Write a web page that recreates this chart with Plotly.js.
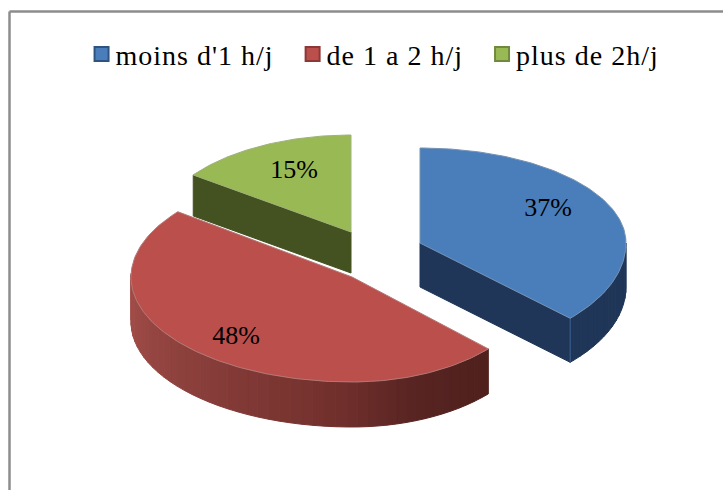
<!DOCTYPE html>
<html><head><meta charset="utf-8">
<script src="https://cdn.plot.ly/plotly-3.0.1.min.js"></script>
<style>html,body{margin:0;padding:0;background:#fff}#c{width:723px;height:490px}
.legendtext{letter-spacing:1px}
.legend .legendpoints{transform:translate(6px,0)}
</style>
</head><body><div id="c"></div>
<script>
// Data
const categories = ["moins d'1 h/j", "de 1 a 2 h/j", "plus de 2h/j"];
const percents = [37, 48, 15];

// Styles
const topColors = ["#4a7ebb", "#bb4f4c", "#98b954"];
const edgeColors = ["#2c5382", "#8c3836", "#6f8a3c"];
const sideColors = ["#1f3658", "#6e2e2b", "#445221"];
// Projection of every exploded slice: centre, half-widths, half-heights, thickness, end-angle skew
const proj = [
  {cx:420, cy:243, aR:206, aL:206, bB:95,  bF:110, d:44, skew:0},
  {cx:352, cy:277, aR:187, aL:221, bB:106, bF:105, d:45, skew:2},
  {cx:351, cy:232, aR:195, aL:195, bB:97,  bF:97,  d:41, skew:0}
];
const labelPos = [[548,209],[236,337],[294,171]];
const FONT = '"Liberation Serif", serif';

const rad = t => t*Math.PI/180;
function rim(p, t, dz){
  const s = Math.sin(rad(t)), c = Math.cos(rad(t));
  return [p.cx + (s>=0?p.aR:p.aL)*s, p.cy - (c>=0?p.bB:p.bF)*c + (dz||0)];
}
function poly(pts, fill, line, w){
  return {type:'scatter', mode:'lines', x:pts.map(q=>q[0]), y:pts.map(q=>q[1]),
    fill:'toself', fillcolor:fill, line:{color:line||fill, width:w===undefined?1:w},
    showlegend:false, hoverinfo:'skip'};
}
function mix(a,b,f){
  const h=s=>[1,3,5].map(i=>parseInt(s.substr(i,2),16));
  const A=h(a),B=h(b);
  return 'rgb('+A.map((v,i)=>Math.round(v+(B[i]-v)*f)).join(',')+')';
}
// red wall gradient stops: angle -> colour
const redStops=[[133,'#4f201c'],[160,'#572422'],[185,'#72302d'],[225,'#8a3f3b'],[262,'#a04b47'],[300,'#a04b47']];
function redShade(t){
  for(let i=0;i<redStops.length-1;i++){
    if(t<=redStops[i+1][0]) return mix(redStops[i][1],redStops[i+1][1],(t-redStops[i][0])/(redStops[i+1][0]-redStops[i][0]));
  }
  return redStops[redStops.length-1][1];
}

const total = percents.reduce((a,b)=>a+b,0);
const traces = [];
let acc = 0;
const spans = percents.map((v,i)=>{const s=[acc/total*360,(acc+v)/total*360+proj[i].skew];acc+=v;return s;});

percents.forEach((v,i)=>{
  const p=proj[i], [t0,t1]=spans[i];
  const apex=[p.cx,p.cy];
  // cut face visible from the viewer
  if(i===0){
    const e=rim(p,t1);
    traces.push(poly([apex,e,[e[0],e[1]+p.d],[apex[0],apex[1]+p.d],apex],sideColors[i]));
  }
  if(i===2){
    const e=rim(p,t0);
    traces.push(poly([apex,e,[e[0],e[1]+p.d],[apex[0],apex[1]+p.d],apex],sideColors[i]));
  }
  // outer wall as narrow strips
  if(i<2){
    const from = i===0?90:t0, to = i===0?t1:Math.min(t1,272);
    const step=3;
    for(let t=from;t<to;t+=step){
      const u=Math.min(t+step,to);
      const a=rim(p,t),b=rim(p,u);
      const col=i===0?sideColors[0]:redShade((t+u)/2);
      traces.push(poly([a,b,[b[0],b[1]+p.d],[a[0],a[1]+p.d],a],col));
    }
  }
  if(i===0){
    const e=rim(p,t1);
    traces.push({type:'scatter',mode:'lines',x:[e[0],e[0]],y:[e[1],e[1]+p.d],line:{color:'#3f6496',width:1},showlegend:false,hoverinfo:'skip'});
  }
  // top face
  const pts=[apex];
  for(let t=t0;t<=t1+1e-6;t+=1) pts.push(rim(p,t));
  pts.push(rim(p,t1)); pts.push(apex);
  traces.push(poly(pts,topColors[i],mix(topColors[i],'#aaaaaa',0.45),1));
});

// percent labels
traces.push({type:'scatter',mode:'text',x:labelPos.map(q=>q[0]),y:labelPos.map(q=>q[1]),
  text:percents.map(v=>v+'%'),textposition:'middle center',
  textfont:{family:FONT,size:26,color:'#000'},showlegend:false,hoverinfo:'skip'});

// legend entries
categories.forEach((c,i)=>traces.push({type:'scatter',mode:'markers',name:c+'\u00a0',x:[null],y:[null],
  marker:{symbol:'square',size:14,color:topColors[i],line:{color:edgeColors[i],width:2}},hoverinfo:'skip'}));

const layout={
  width:723,height:490,margin:{l:0,r:0,t:0,b:0,pad:0},
  paper_bgcolor:'#fff',plot_bgcolor:'#fff',
  xaxis:{visible:false,range:[0,723],fixedrange:true},
  yaxis:{visible:false,range:[490,0],fixedrange:true},
  showlegend:true,
  legend:{orientation:'h',x:0.1045,xanchor:'left',y:0.94,yanchor:'top',
    font:{family:FONT,size:28,color:'#000'},bgcolor:'rgba(0,0,0,0)',itemclick:false,itemdoubleclick:false},
  shapes:[
   {type:'line',xref:'x',yref:'y',x0:9.5,x1:9.5,y0:490,y1:11.5,line:{color:'#8c8c8c',width:2.5}},
   {type:'line',xref:'x',yref:'y',x0:9.5,x1:723,y0:11.5,y1:11.5,line:{color:'#8c8c8c',width:2.5}}
  ]
};
Plotly.newPlot('c',traces,layout,{displayModeBar:false,staticPlot:true});
</script></body></html>
